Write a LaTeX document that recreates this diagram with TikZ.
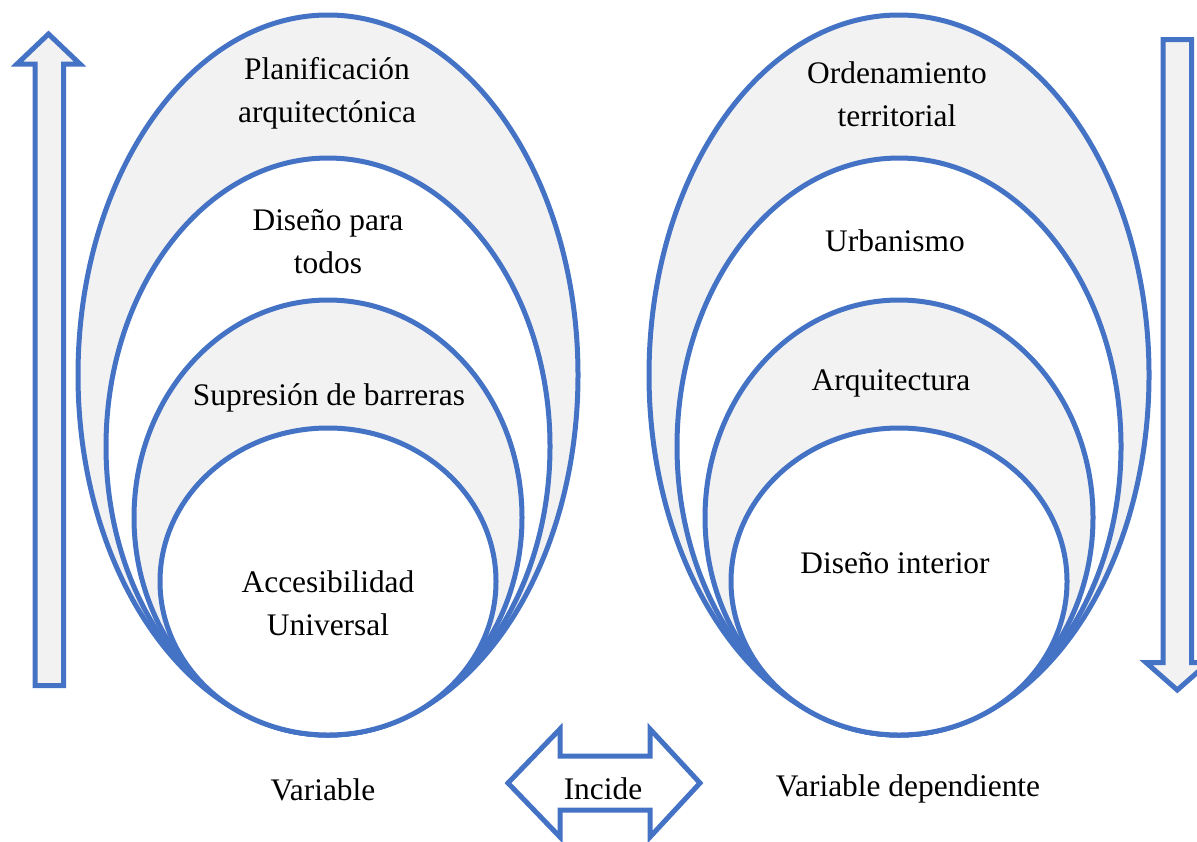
\documentclass[tikz,border=0pt]{standalone}
\usepackage{fontspec}
\setmainfont{Liberation Serif}
\usetikzlibrary{shapes.geometric}
\definecolor{ringblue}{HTML}{4472C4}
\definecolor{lightfill}{HTML}{F2F2F2}
\begin{document}
\begin{tikzpicture}[x=0.5pt,y=-0.5pt,
  ring/.style={ellipse, draw=ringblue, line width=2.5pt, inner sep=0pt, outer sep=0pt},
  grayring/.style={ring, fill=lightfill},
  whitering/.style={ring, fill=white},
  lbl/.style={font=\fontsize{15.7}{21.3}\selectfont, align=center, inner sep=0pt, anchor=base},
  bigarrow/.style={draw=ringblue, line width=2.5pt, line join=miter, fill=lightfill},
  twoway/.style={draw=ringblue, line width=2.5pt, line join=miter, fill=white}]
\fill[white] (0,0) rectangle (1197,841);
\useasboundingbox (0,0) rectangle (1197,841);

% left group
\node[grayring,  minimum width=250pt, minimum height=360pt]   (L1) at (328,375) {};
\node[whitering, minimum width=222pt, minimum height=288.5pt] (L2) at (328,446.5) {};
\node[grayring,  minimum width=194pt, minimum height=217.5pt] (L3) at (328,517.5) {};
\node[whitering, minimum width=168pt, minimum height=153.5pt] (L4) at (328,581.5) {};

% right group
\node[grayring,  minimum width=250pt, minimum height=360pt]   (R1) at (899,375) {};
\node[whitering, minimum width=222pt, minimum height=288.5pt] (R2) at (899,446.5) {};
\node[grayring,  minimum width=194pt, minimum height=217.5pt] (R3) at (899,517.5) {};
\node[whitering, minimum width=168pt, minimum height=153.5pt] (R4) at (899,581.5) {};

% side arrows
\draw[bigarrow] (35,685.5) -- (35,64) -- (17,64) -- (48.5,34) -- (80,64) -- (63.5,64) -- (63.5,685.5) -- cycle;
\draw[bigarrow] (1163,39.5) -- (1191.5,39.5) -- (1191.5,662.5) -- (1208.5,662.5) -- (1177.25,690) -- (1146,662.5) -- (1163,662.5) -- cycle;

% double arrow
\draw[twoway] (508,783) -- (560,729) -- (560,756) -- (650,756) -- (650,729) -- (700,783)
  -- (650,837) -- (650,810) -- (560,810) -- (560,837) -- cycle;

% labels (two-line labels are placed by the baseline of their last line)
\node[lbl] (tL1) at (327,122) {Planificación\\arquitectónica};
\node[lbl] (tL2) at (328,273) {Diseño para\\todos};
\node[lbl] (tL3) at (329,405) {Supresión de barreras};
\node[lbl] (tL4) at (328,635) {Accesibilidad\\Universal};
\node[lbl] (tR1) at (897,126) {Ordenamiento\\territorial};
\node[lbl] (tR2) at (895,251) {Urbanismo};
\node[lbl] (tR3) at (891,390) {Arquitectura};
\node[lbl] (tR4) at (895,573) {Diseño interior};
\node[lbl] (vL) at (323,800) {Variable};
\node[lbl] (inc) at (603,799) {Incide};
\node[lbl] (vR) at (908,796) {Variable dependiente};
\end{tikzpicture}
\end{document}
